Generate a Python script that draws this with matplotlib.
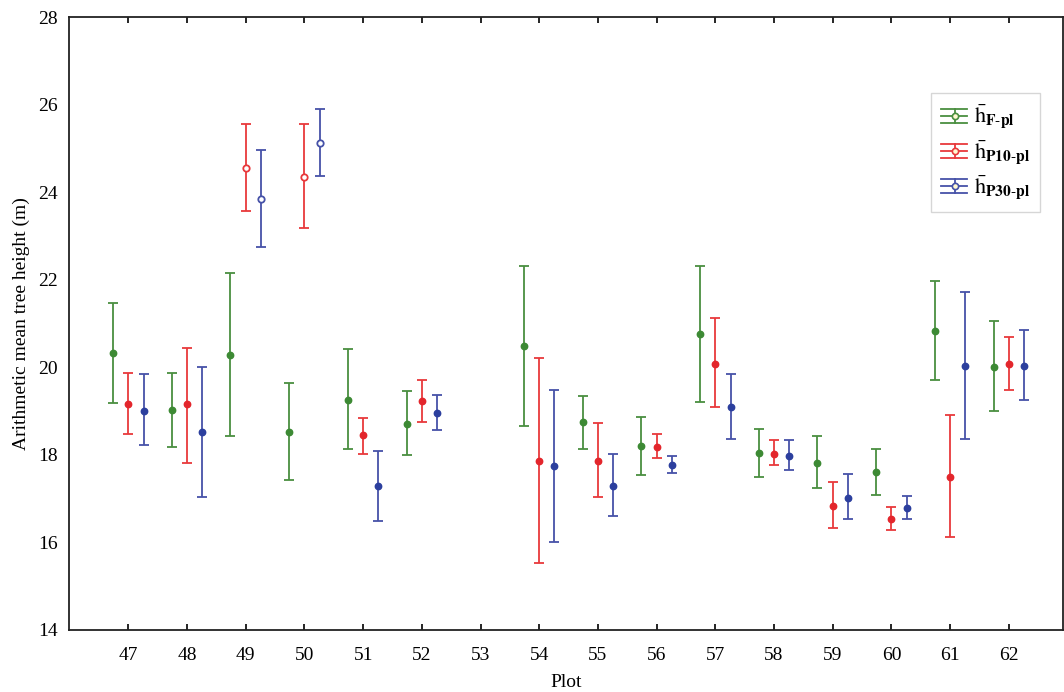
import matplotlib
matplotlib.use("Agg")
import matplotlib.pyplot as plt
import numpy as np
from matplotlib.lines import Line2D
from matplotlib.legend_handler import HandlerBase

plt.rcParams['font.family'] = ['Liberation Serif', 'DejaVu Serif']
plt.rcParams['mathtext.fontset'] = 'stix'

plots = ['47', '48', '49', '50', '51', '52', '53', '54', '55', '56', '57', '58', '59', '60', '61', '62']

# h_F-pl (green)
f_mean = [20.33, 19.02, 20.28, 18.52, 19.25, 18.71, np.nan, 20.49, 18.74, 18.20, 20.77, 18.05, 17.82, 17.60, 20.84, 20.00]
f_low  = [19.18, 18.17, 18.42, 17.43, 18.13, 17.99, np.nan, 18.66, 18.13, 17.53, 19.21, 17.50, 17.25, 17.08, 19.71, 19.00]
f_high = [21.46, 19.88, 22.16, 19.63, 20.42, 19.45, np.nan, 22.32, 19.34, 18.87, 22.32, 18.59, 18.43, 18.14, 21.98, 21.06]

# h_P10-pl (red)
p10_mean = [19.16, 19.16, 24.56, 24.35, 18.45, 19.22, np.nan, 17.85, 17.87, 18.17, 20.08, 18.02, 16.83, 16.54, 17.50, 20.07]
p10_low  = [18.48, 17.81, 23.57, 23.17, 18.02, 18.75, np.nan, 15.54, 17.04, 17.92, 19.09, 17.77, 16.34, 16.28, 16.13, 19.49]
p10_high = [19.88, 20.45, 25.56, 25.56, 18.84, 19.70, np.nan, 20.21, 18.72, 18.48, 21.12, 18.33, 17.38, 16.82, 18.90, 20.69]

# h_P30-pl (blue)
p30_mean = [19.01, 18.52, 23.84, 25.12, 17.28, 18.96, np.nan, 17.75, 17.30, 17.77, 19.10, 17.97, 17.02, 16.79, 20.04, 20.02]
p30_low  = [18.23, 17.03, 22.75, 24.36, 16.48, 18.57, np.nan, 16.00, 16.61, 17.59, 18.36, 17.66, 16.53, 16.53, 18.36, 19.25]
p30_high = [19.85, 20.00, 24.97, 25.89, 18.08, 19.37, np.nan, 19.48, 18.02, 17.98, 19.85, 18.33, 17.56, 17.07, 21.73, 20.85]

# plots whose P10/P30 means are drawn as open circles
open_plots = ['49', '50']

series = [
    (f_mean, f_low, f_high, '#3d8a34', '#4a8f40', -0.26, r'$\bar{\mathrm{h}}_{\mathbf{F\text{-}pl}}$', False),
    (p10_mean, p10_low, p10_high, '#e3262c', '#e8393c', 0.0, r'$\bar{\mathrm{h}}_{\mathbf{P10\text{-}pl}}$', True),
    (p30_mean, p30_low, p30_high, '#2c3f9e', '#4652a8', 0.26, r'$\bar{\mathrm{h}}_{\mathbf{P30\text{-}pl}}$', True),
]


class WhiskerHandler(HandlerBase):
    """Legend icon: whisker box drawn sideways, as in the original software."""
    def create_artists(self, legend, orig_handle, xdescent, ydescent, width, height, fontsize, trans):
        c = orig_handle.get_color()
        lw = 1.3
        x0, x1 = -xdescent, -xdescent + width
        ym = -ydescent + height / 2.0
        dy = height * 0.42
        arts = [
            Line2D([x0, x1], [ym + dy, ym + dy], color=c, lw=lw, transform=trans),
            Line2D([x0, x1], [ym - dy, ym - dy], color=c, lw=lw, transform=trans),
            Line2D([x0, x1], [ym, ym], color=c, lw=lw, transform=trans),
            Line2D([x0 + width * 0.55, x0 + width * 0.55], [ym - dy, ym + dy], color=c, lw=lw, transform=trans),
            Line2D([x0 + width * 0.55], [ym], marker='o', ms=4.5, mfc='#fff8d0', mec=c, mew=1.2,
                   linestyle='none', transform=trans),
        ]
        return arts


fig = plt.figure(figsize=(10.64, 6.92), dpi=100)
ax = fig.add_axes([0.0649, 0.0896, 0.934, 0.8858])

x = np.arange(len(plots))
handles = []
for mean, low, high, mcol, lcol, off, label, can_open in series:
    mean = np.array(mean, dtype=float)
    low = np.array(low, dtype=float)
    high = np.array(high, dtype=float)
    xs = x + off
    ok = ~np.isnan(mean)
    yerr = np.vstack([mean - low, high - mean])
    ax.errorbar(xs[ok], mean[ok], yerr=yerr[:, ok], fmt='none', ecolor=lcol,
                elinewidth=1.3, capsize=3.8, capthick=1.3, zorder=2)
    is_open = np.array([can_open and p in open_plots for p in plots])
    filled = ok & ~is_open
    opn = ok & is_open
    ax.plot(xs[filled], mean[filled], 'o', color=mcol, ms=4.6, zorder=3, linestyle='none')
    ax.plot(xs[opn], mean[opn], 'o', mfc='white', mec=lcol, mew=1.3, ms=4.6, zorder=3, linestyle='none')
    handles.append(Line2D([], [], color=lcol, label=label))

ax.set_xlim(-1.01, 15.92)
ax.set_ylim(14, 28)
ax.set_xticks(x)
ax.set_xticklabels(plots)
ax.set_yticks(np.arange(14, 29, 2))
ax.tick_params(axis='x', direction='in', length=4, width=1.2, top=True, labelsize=14, pad=12)
ax.tick_params(axis='y', length=0, labelsize=14, pad=8)
for s in ax.spines.values():
    s.set_linewidth(1.3)
    s.set_color('#222222')

ax.set_xlabel('Plot', fontsize=14)
ax.set_ylabel('Arithmetic mean tree height (m)', fontsize=14, labelpad=6)
ax.xaxis.set_label_coords(0.5, -0.072)

leg = ax.legend(handles=handles, loc='upper left', bbox_to_anchor=(0.867, 0.876),
                handler_map={Line2D: WhiskerHandler()},
                fontsize=16, frameon=True, fancybox=False, edgecolor='#cccccc',
                handlelength=1.2, handleheight=0.8, handletextpad=0.3, labelspacing=0.3,
                borderpad=0.45, borderaxespad=0)
leg.get_frame().set_linewidth(1.0)

fig.savefig('out.png', dpi=100, facecolor='white')
